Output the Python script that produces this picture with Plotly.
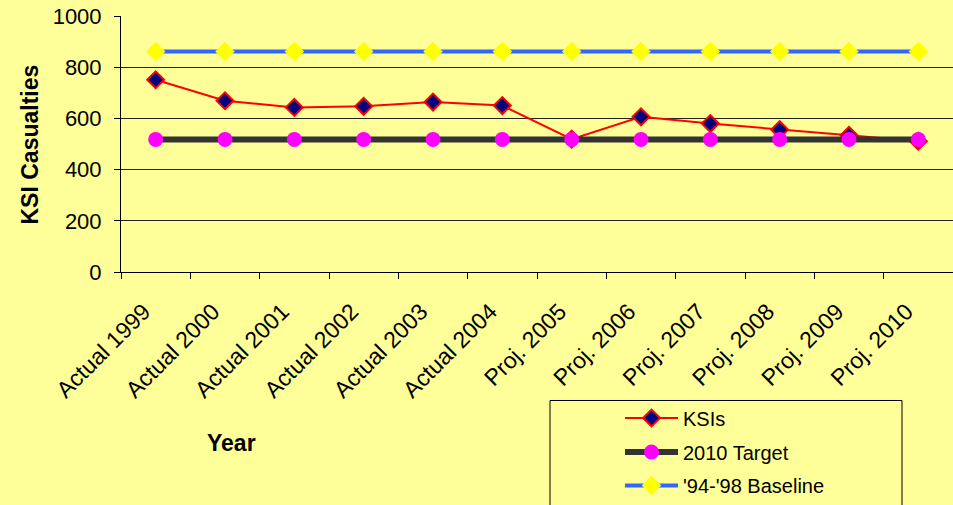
import plotly.graph_objects as go

# Road casualty figures: killed or seriously injured (KSI)
years = ["Actual 1999", "Actual 2000", "Actual 2001", "Actual 2002", "Actual 2003",
         "Actual 2004", "Proj. 2005", "Proj. 2006", "Proj. 2007", "Proj. 2008",
         "Proj. 2009", "Proj. 2010"]
ksis = [751, 669, 643, 647, 664, 650, 519, 606, 580, 556, 534, 511]
target_2010 = [518] * len(years)
baseline_94_98 = [861] * len(years)

W, H = 953, 505
L, R, T, B = 121, 0, 16, 232
PW, PH = W - L - R, H - T - B


def px(x):
    return (x - L) / PW


def py(y):
    return (H - B - y) / PH


FONT = "Liberation Sans, Arial, sans-serif"
BG = "#FFFF99"

fig = go.Figure()
fig.add_trace(go.Scatter(
    x=years, y=ksis, name="KSIs", mode="lines+markers",
    line=dict(color="#FF0000", width=2),
    marker=dict(symbol="diamond", size=13, color="#000080",
                line=dict(color="#FF0000", width=2)),
    legend="legend",
))
fig.add_trace(go.Scatter(
    x=years, y=target_2010, name="2010 Target", mode="lines+markers",
    line=dict(color="#333333", width=6),
    marker=dict(symbol="circle", size=15, color="#FF00FF"),
    legend="legend2",
))
fig.add_trace(go.Scatter(
    x=years, y=baseline_94_98, name="'94-'98 Baseline", mode="lines+markers",
    line=dict(color="#3366FF", width=4),
    marker=dict(symbol="diamond", size=15, color="#FFFF00"),
    legend="legend3",
))


def legend_row(center_y):
    # one legend entry per row, centred vertically on center_y (pixels)
    return dict(
        x=px(620), y=py(center_y), xanchor="left", yanchor="middle",
        bgcolor="rgba(0,0,0,0)", borderwidth=0,
        font=dict(size=20, family=FONT), itemwidth=53,
    )


fig.update_layout(
    width=W, height=H,
    margin=dict(l=L, r=R, t=T, b=B, pad=0),
    paper_bgcolor=BG, plot_bgcolor=BG,
    font=dict(family=FONT, size=21, color="#000000"),
    showlegend=True,
    legend=legend_row(418),
    legend2=legend_row(452),
    legend3=legend_row(488),
    xaxis=dict(
        type="category", range=[-0.5, len(years) - 0.5],
        showgrid=False, showline=True, linecolor="#000000", linewidth=1,
        ticks="outside", tickson="boundaries", ticklen=6, tickcolor="#000000",
        tickangle=-45, tickfont=dict(size=23, family=FONT),
        ticklabelstandoff=16, ticklabelshift=-12,
        zeroline=False,
    ),
    yaxis=dict(
        range=[0, 1000], dtick=200, showgrid=True, gridcolor="#222222", gridwidth=1,
        showline=True, linecolor="#000000", linewidth=1,
        ticks="outside", ticklen=6, tickcolor="#000000",
        tickfont=dict(size=22, family=FONT), zeroline=False,
        ticklabelstandoff=8,
    ),
    shapes=[dict(
        type="rect", xref="paper", yref="paper",
        x0=px(550), x1=px(902), y0=py(402), y1=py(530),
        line=dict(color="#000000", width=1), fillcolor="rgba(0,0,0,0)",
    )],
    annotations=[
        dict(text="<b>KSI Casualties</b>", xref="paper", yref="paper",
             x=px(30), y=py(145), textangle=-90, showarrow=False,
             font=dict(size=23, family=FONT), xanchor="center", yanchor="middle"),
        dict(text="<b>Year</b>", xref="paper", yref="paper",
             x=px(231), y=py(445), showarrow=False,
             font=dict(size=23, family=FONT), xanchor="center", yanchor="middle"),
    ],
)

fig.write_html("out.html")
